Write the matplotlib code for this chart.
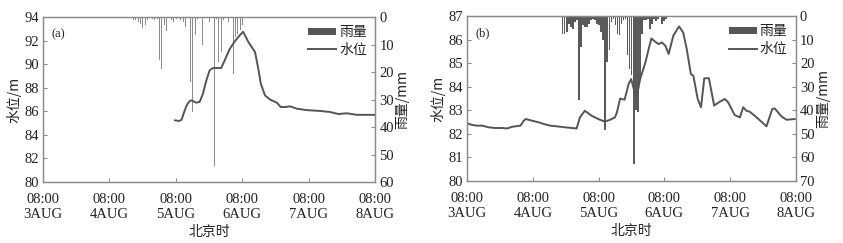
import numpy as np
import matplotlib.pyplot as plt
from matplotlib.patches import Patch
from matplotlib.lines import Line2D

# hours since 08:00 3 AUG
xticks = [0, 24, 48, 72, 96, 120]
xticklabels = ['08:00\n3AUG', '08:00\n4AUG', '08:00\n5AUG',
               '08:00\n6AUG', '08:00\n7AUG', '08:00\n8AUG']

# (a) water level
t_a = [47.7, 49.3, 50.1, 51.0, 51.9, 52.9, 53.6, 55.4, 56.6, 57.8,
       59.0, 60.2, 61.4, 63.2, 64.4, 65.9, 67.5, 69.3, 71.1, 72.3,
       74.2, 76.6, 77.8, 78.7, 80.2, 82.0, 84.5, 85.9, 87.5, 89.3,
       91.7, 95.3, 100.1, 103.7, 106.7, 109.8, 113.4, 120]
level_a = [85.23, 85.18, 85.3, 85.94, 86.5, 86.85, 86.93, 86.73, 86.8, 87.5,
           88.6, 89.47, 89.67, 89.67, 89.67, 90.46, 91.3, 91.94, 92.45, 92.75,
           91.88, 91.03, 89.6, 88.34, 87.35, 87.0, 86.73, 86.36, 86.36, 86.42,
           86.22, 86.1, 86.03, 85.94, 85.77, 85.83, 85.7, 85.7]
# (a) rainfall
rain_a_start, rain_a_step = 31.8, 0.858
rain_a = [1, 1.2, 1, 1.8, 2.7, 3.9, 3, 1, 0.5, 0.7, 1.2, 0.6, 15.8, 18.8, 3, 5.2,
          1.2, 1, 1.8, 0.6, 0.4, 1, 1.8, 3.6, 4.8, 23.6, 34.5, 6.7, 0.6, 0.2, 10.3,
          0.4, 0.6, 1.8, 0, 54, 0.6, 16.4, 12.7, 1.2, 0.4, 1.8, 0, 20.6, 7.3, 6,
          4.8, 3, 1.2]

# (b) water level
t_b = [0, 1.8, 3.6, 5.5, 7.9, 10.3, 12.8, 14.6, 16.4, 19.5,
       20.7, 21.5, 23.7, 26.2, 28.0, 30.4, 32.8, 35.7, 40.0, 41.2,
       43.0, 45.5, 47.9, 50.3, 52.2, 54.0, 54.7, 55.9, 57.5, 59.0,
       59.9, 61.2, 62.0, 63.2, 65.1, 66.3, 67.3, 68.7, 69.9, 71.1,
       72.4, 73.6, 75.3, 77.4, 78.9, 80.2, 81.7, 82.6, 84.2, 85.4,
       86.6, 88.3, 90.2, 92.3, 94.1, 95.3, 97.7, 99.6, 100.8, 102.0,
       103.2, 105.7, 109.3, 111.4, 112.3, 114.8, 116.6, 119.6]
level_b = [82.45, 82.38, 82.35, 82.35, 82.28, 82.25, 82.25, 82.23, 82.3, 82.35,
           82.56, 82.63, 82.56, 82.49, 82.42, 82.35, 82.32, 82.28, 82.23, 82.7,
           82.98, 82.77, 82.63, 82.52, 82.6, 82.7, 82.91, 83.5, 83.45, 84.12,
           84.33, 83.76, 83.62, 84.33, 85.03, 85.6, 86.05, 85.91, 85.81, 85.88,
           85.74, 85.39, 86.17, 86.56, 86.3, 85.6, 84.54, 84.47, 83.48, 83.13,
           84.36, 84.36, 83.2, 83.37, 83.48, 83.34, 82.8, 82.7, 83.13, 82.98,
           82.94, 82.7, 82.32, 83.05, 83.08, 82.74, 82.6, 82.63]
# (b) rainfall
rain_b_start, rain_b_step = 34.9, 0.741
rain_b = [7.5, 7.5, 6.8, 3.3, 4.7, 5.4, 2.5, 1.8, 35.8, 13.2, 4, 4.7, 4.7, 3.3,
          1.8, 1.1, 1.8, 3.3, 4, 6.8, 10.3, 48.5, 19.5, 14.6, 2.5, 1.1, 4, 7.5,
          8.2, 3.3, 1.8, 1.1, 16.7, 22.3, 25.2, 62.6, 40, 40.7, 27, 7.5, 1.8,
          1.8, 1.1, 5.4, 3.3, 1.1, 2.1, 1.1, 0.4, 3.3, 2.1, 1.1, 0.4, 0.2, 0.3, 0.2]

serif = ['Liberation Serif', 'Noto Sans CJK SC']
cjk = ['Noto Sans CJK SC', 'Liberation Serif']
plt.rcParams['font.family'] = serif

line_c = '#555555'
spine_c = '#8a8a8a'
text_c = '#222222'

fig = plt.figure(figsize=(8.43, 2.43), dpi=100)


def panel(rect, t, level, rain, r0, rstep, ylim, yticks, rmax, rticks,
          bar_w, bar_c, tag):
    ax = fig.add_axes(rect)
    ax2 = ax.twinx()
    ax.set_zorder(ax2.get_zorder() + 1)
    ax.patch.set_visible(False)

    rt = r0 + rstep * np.arange(len(rain))
    ax2.bar(rt, rain, width=bar_w, color=bar_c, linewidth=0, align='center')
    ax2.set_ylim(rmax, 0)
    ax2.set_yticks(rticks)

    ax.plot(t, level, color=line_c, linewidth=1.4)
    ax.set_xlim(0, 120)
    ax.set_ylim(*ylim)
    ax.set_yticks(yticks)
    ax.set_xticks(xticks)
    ax.set_xticklabels(xticklabels, linespacing=1.15)

    for a in (ax, ax2):
        for s in a.spines.values():
            s.set_color(spine_c)
            s.set_linewidth(0.9)
        a.tick_params(direction='in', length=3, width=0.7, color=spine_c,
                      labelsize=10.5, labelcolor=text_c, pad=3)
    ax.tick_params(axis='x', pad=8)

    ax.set_ylabel('水位/m', family=cjk, fontsize=10, color=text_c, labelpad=2)
    ax2.set_ylabel('雨量/mm', family=cjk, fontsize=10, color=text_c, labelpad=1)
    ax.set_xlabel('北京时', family=cjk, fontsize=10, color=text_c, labelpad=3)
    ax.text(0.025, 0.93, tag, transform=ax.transAxes, fontsize=9,
            color=text_c, va='top', ha='left')

    handles = [Patch(facecolor='#555555', edgecolor='none'),
               Line2D([], [], color=line_c, linewidth=1.4)]
    ax.legend(handles, ['雨量', '水位'], loc='upper right', frameon=False,
              prop={'family': cjk, 'size': 10}, handlelength=2.0,
              handleheight=0.45, handletextpad=0.2, labelspacing=0.25,
              borderaxespad=0.2, labelcolor=text_c)
    return ax


panel([0.051, 0.251, 0.394, 0.679], t_a, level_a, rain_a, rain_a_start,
      rain_a_step, (80, 94), range(80, 95, 2), 60, range(0, 61, 10),
      0.35, '#8c8c8c', '(a)')
panel([0.554, 0.255, 0.390, 0.679], t_b, level_b, rain_b, rain_b_start,
      rain_b_step, (80, 87), range(80, 88), 70, range(0, 71, 10),
      0.6, '#5a5a5a', '(b)')

plt.savefig('out.png', dpi=100)
